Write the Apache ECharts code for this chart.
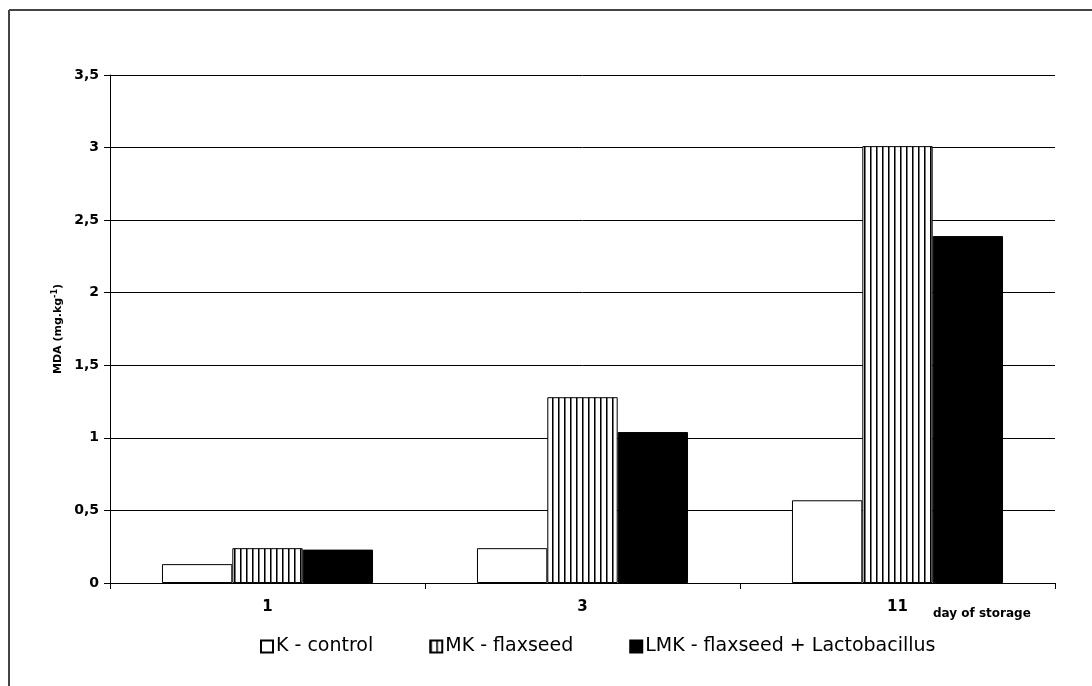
<!DOCTYPE html>
<html>
<head>
<meta charset="utf-8">
<script src="https://cdn.jsdelivr.net/npm/echarts@6/dist/echarts.min.js"></script>
<style>
html,body{margin:0;padding:0;background:#fff;}
#chart{width:1092px;height:686px;}
</style>
</head>
<body>
<div id="chart"></div>
<script>
const categories = ['1', '3', '11'];
const seriesNames = ['K - control', 'MK - flaxseed', 'LMK - flaxseed + Lactobacillus'];
const kControl = [0.13, 0.24, 0.57];
const mkFlaxseed = [0.24, 1.28, 3.01];
const lmkFlaxLacto = [0.23, 1.04, 2.39];
const yTicks = [0, 0.5, 1, 1.5, 2, 2.5, 3, 3.5];

const FONT = '"DejaVu Sans", "Liberation Sans", Arial, sans-serif';

// vertical stripe pattern
const pc = document.createElement('canvas');
pc.width = 6; pc.height = 10;
const pctx = pc.getContext('2d');
pctx.fillStyle = '#fff'; pctx.fillRect(0, 0, 6, 10);
pctx.fillStyle = '#000'; pctx.fillRect(0, 0, 1, 10);
pctx.fillStyle = '#777'; pctx.fillRect(1, 0, 1, 10);
const stripe = { image: pc, repeat: 'repeat' };

const chart = echarts.init(document.getElementById('chart'), null, { renderer: 'canvas' });

const option = {
  backgroundColor: '#fff',
  animation: false,
  textStyle: { fontFamily: FONT },
  grid: { left: 110, right: 37, top: 75, bottom: 103 },
  legend: {
    left: 255, top: 632,
    itemWidth: 12, itemHeight: 12, itemGap: 56,
    textStyle: { fontFamily: FONT, fontSize: 19, color: '#000', padding: [0, 0, 0, -2] },
    data: seriesNames.map(n => ({ name: n, icon: 'rect' }))
  },
  xAxis: {
    type: 'category',
    data: categories,
    axisLine: { lineStyle: { color: '#000', width: 1 } },
    axisTick: { show: true, length: 6, lineStyle: { color: '#000' } },
    axisLabel: { color: '#000', fontWeight: 'bold', fontSize: 15, margin: 17, fontFamily: FONT },
    splitLine: { show: false }
  },
  yAxis: {
    type: 'value',
    min: yTicks[0], max: yTicks[yTicks.length - 1], interval: 0.5,
    name: 'MDA (mg.kg{sup|-1})',
    nameLocation: 'middle',
    nameGap: 43,
    nameRotate: 90,
    nameTextStyle: {
      color: '#000', fontWeight: 'bold', fontSize: 11, fontFamily: FONT,
      rich: { sup: { fontSize: 8, fontWeight: 'bold', fontFamily: FONT, verticalAlign: 'top', padding: [0, 0, 6, 0] } }
    },
    axisLine: { show: true, lineStyle: { color: '#000', width: 1 } },
    axisTick: { show: true, length: 6, lineStyle: { color: '#000' } },
    axisLabel: {
      color: '#000', fontWeight: 'bold', fontSize: 14, margin: 11, fontFamily: FONT,
      formatter: v => String(v).replace('.', ',')
    },
    splitLine: { show: true, lineStyle: { color: '#000', width: 1 } }
  },
  series: [
    {
      name: seriesNames[0], type: 'bar', data: kControl,
      barGap: '0%', barCategoryGap: '33%',
      itemStyle: { color: '#fff', borderColor: '#000', borderWidth: 1 }
    },
    {
      name: seriesNames[1], type: 'bar', data: mkFlaxseed,
      barGap: '0%', barCategoryGap: '33%',
      itemStyle: { color: stripe, borderColor: '#000', borderWidth: 1 }
    },
    {
      name: seriesNames[2], type: 'bar', data: lmkFlaxLacto,
      barGap: '0%', barCategoryGap: '33%',
      itemStyle: { color: '#000', borderColor: '#000', borderWidth: 1 }
    }
  ],
  graphic: [
    { type: 'line', shape: { x1: 9, y1: 10, x2: 1092, y2: 10 }, style: { stroke: '#444', lineWidth: 2 } },
    { type: 'line', shape: { x1: 9, y1: 10, x2: 9, y2: 686 }, style: { stroke: '#444', lineWidth: 2 } },
    { type: 'text', left: 933, top: 608, style: { text: 'day of storage', fill: '#000', font: 'bold 12px ' + FONT } }
  ]
};
chart.setOption(option);
</script>
</body>
</html>
